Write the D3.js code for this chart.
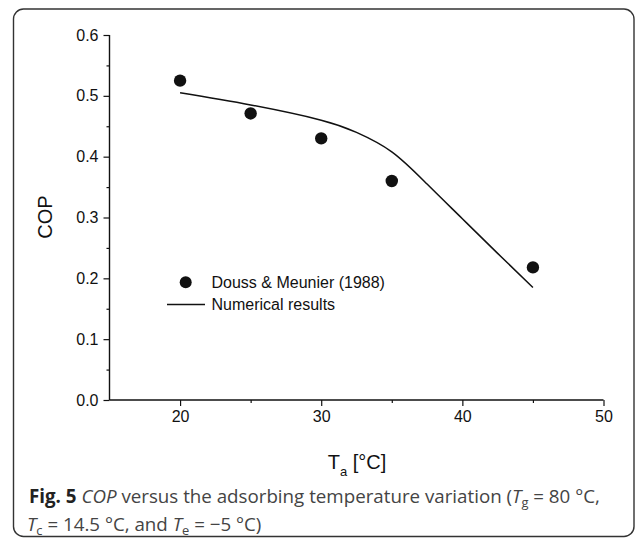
<!DOCTYPE html>
<html><head><meta charset="utf-8">
<script src="https://cdn.jsdelivr.net/npm/d3@7"></script>
<style>html,body{margin:0;padding:0;background:#fff;}svg{display:block;}</style>
</head><body>
<svg id="c" width="636" height="544"></svg>
<script>
// Experimental data: Douss & Meunier (1988)
const expT = [20, 25, 30, 35, 45];
const expCOP = [0.525, 0.471, 0.430, 0.360, 0.218];
// Numerical results
const numT = [20, 25, 30, 32.5, 35, 37.5, 40, 42.5, 45];
const numCOP = [0.505, 0.485, 0.460, 0.440, 0.408, 0.355, 0.298, 0.241, 0.185];
const xMajor = [20, 30, 40, 50];
const xMinor = [25, 35, 45];
const yMajor = [0, 0.1, 0.2, 0.3, 0.4, 0.5, 0.6];
const yMinor = [0.05, 0.15, 0.25, 0.35, 0.45, 0.55];
const legendLabels = ["Douss & Meunier (1988)", "Numerical results"];

const svg = d3.select("#c");
const font = "'Liberation Sans', Arial, Helvetica, sans-serif";

// frame
svg.append("rect").attr("x", 13.5).attr("y", 9).attr("width", 620.5).attr("height", 527.5)
  .attr("rx", 10).attr("fill", "none").attr("stroke", "#333").attr("stroke-width", 1.4);

const x = d3.scaleLinear().domain([15, 50]).range([109.5, 603.5]);
const y = d3.scaleLinear().domain([0, 0.6]).range([400, 35]);

const g = svg.append("g");

// x axis
const xAx = g.append("g").attr("transform", "translate(0,400)")
  .call(d3.axisBottom(x).tickValues(xMajor).tickSize(6).tickPadding(5).tickFormat(d3.format("d")));
xAx.append("g").call(d3.axisBottom(x).tickValues(xMinor).tickSize(3).tickFormat(""))
  .select(".domain").remove();
// y axis
const yAx = g.append("g").attr("transform", "translate(109.5,0)")
  .call(d3.axisLeft(y).tickValues(yMajor).tickSize(6).tickPadding(5).tickFormat(d3.format(".1f")));
yAx.append("g").call(d3.axisLeft(y).tickValues(yMinor).tickSize(3).tickFormat(""))
  .select(".domain").remove();

[xAx, yAx].forEach(a => {
  a.selectAll("line").attr("stroke", "#111").attr("stroke-width", 1.2);
  a.selectAll("text").attr("font-family", font).attr("font-size", 16).attr("fill", "#111");
});
xAx.select(".domain").remove();
yAx.select(".domain").remove();
g.append("line").attr("x1", x(15)).attr("x2", x(50)).attr("y1", y(0)).attr("y2", y(0))
  .attr("stroke", "#111").attr("stroke-width", 1.4);
g.append("line").attr("x1", x(15)).attr("x2", x(15)).attr("y1", y(0)).attr("y2", y(0.6))
  .attr("stroke", "#111").attr("stroke-width", 1.4);

// numerical line
const numData = numT.map((t, i) => [t, numCOP[i]]);
g.append("path").datum(numData)
  .attr("d", d3.line().x(d => x(d[0])).y(d => y(d[1])).curve(d3.curveNatural))
  .attr("fill", "none").attr("stroke", "#111").attr("stroke-width", 1.5);

// experimental points
g.selectAll("circle.exp").data(expT.map((t, i) => [t, expCOP[i]])).join("circle")
  .attr("class", "exp").attr("cx", d => x(d[0])).attr("cy", d => y(d[1])).attr("r", 6.2)
  .attr("fill", "#111");

// legend
const lg = g.append("g");
lg.append("circle").attr("cx", 185.7).attr("cy", 282.3).attr("r", 6).attr("fill", "#111");
lg.append("line").attr("x1", 167).attr("x2", 205).attr("y1", 304.5).attr("y2", 304.5)
  .attr("stroke", "#111").attr("stroke-width", 1.5);
lg.selectAll("text").data(legendLabels).join("text")
  .attr("x", 211.5).attr("y", (d, i) => 288 + i * 22)
  .attr("font-family", font).attr("font-size", 16).attr("fill", "#111").text(d => d);

// axis titles
g.append("text").attr("transform", "translate(52,217) rotate(-90)")
  .attr("text-anchor", "middle").attr("font-family", font).attr("font-size", 20)
  .attr("fill", "#111").text("COP");
const xt = g.append("text").attr("x", 357).attr("y", 469).attr("text-anchor", "middle")
  .attr("font-family", font).attr("font-size", 20).attr("fill", "#111");
xt.append("tspan").text("T");
xt.append("tspan").attr("dy", 7).attr("font-size", 13).text("a");
xt.append("tspan").attr("dy", -7).text(" [°C]");

// caption
const cfont = "'Open Sans', 'Noto Sans', sans-serif";
const c1 = svg.append("text").attr("x", 29).attr("y", 503).attr("font-family", cfont)
  .attr("font-size", 16).attr("fill", "#444");
c1.append("tspan").attr("font-weight", "bold").attr("fill", "#222").text("Fig. 5");
c1.append("tspan").text(" ");
c1.append("tspan").attr("font-style", "italic").text("COP");
c1.append("tspan").text(" versus the adsorbing temperature variation (");
c1.append("tspan").attr("font-style", "italic").text("T");
c1.append("tspan").attr("dy", 4).attr("font-size", 11).text("g");
c1.append("tspan").attr("dy", -4).text(" = 80 °C,");
const c2 = svg.append("text").attr("x", 27).attr("y", 530.5).attr("font-family", cfont)
  .attr("font-size", 16).attr("fill", "#444");
c2.append("tspan").attr("font-style", "italic").text("T");
c2.append("tspan").attr("dy", 4).attr("font-size", 11).text("c");
c2.append("tspan").attr("dy", -4).text(" = 14.5 °C, and ");
c2.append("tspan").attr("font-style", "italic").text("T");
c2.append("tspan").attr("dy", 4).attr("font-size", 11).text("e");
c2.append("tspan").attr("dy", -4).text(" = −5 °C)");
// fit caption line 1 width to reference (29 → 600)
const w1 = c1.node().getComputedTextLength();
const s = 571 / w1;
c1.attr("font-size", 16 * s);
c1.selectAll("tspan").filter(function(){return this.getAttribute("font-size");}).attr("font-size", 11 * s);
c2.attr("font-size", 16 * s);
c2.selectAll("tspan").filter(function(){return this.getAttribute("font-size");}).attr("font-size", 11 * s);
</script>
</body></html>
